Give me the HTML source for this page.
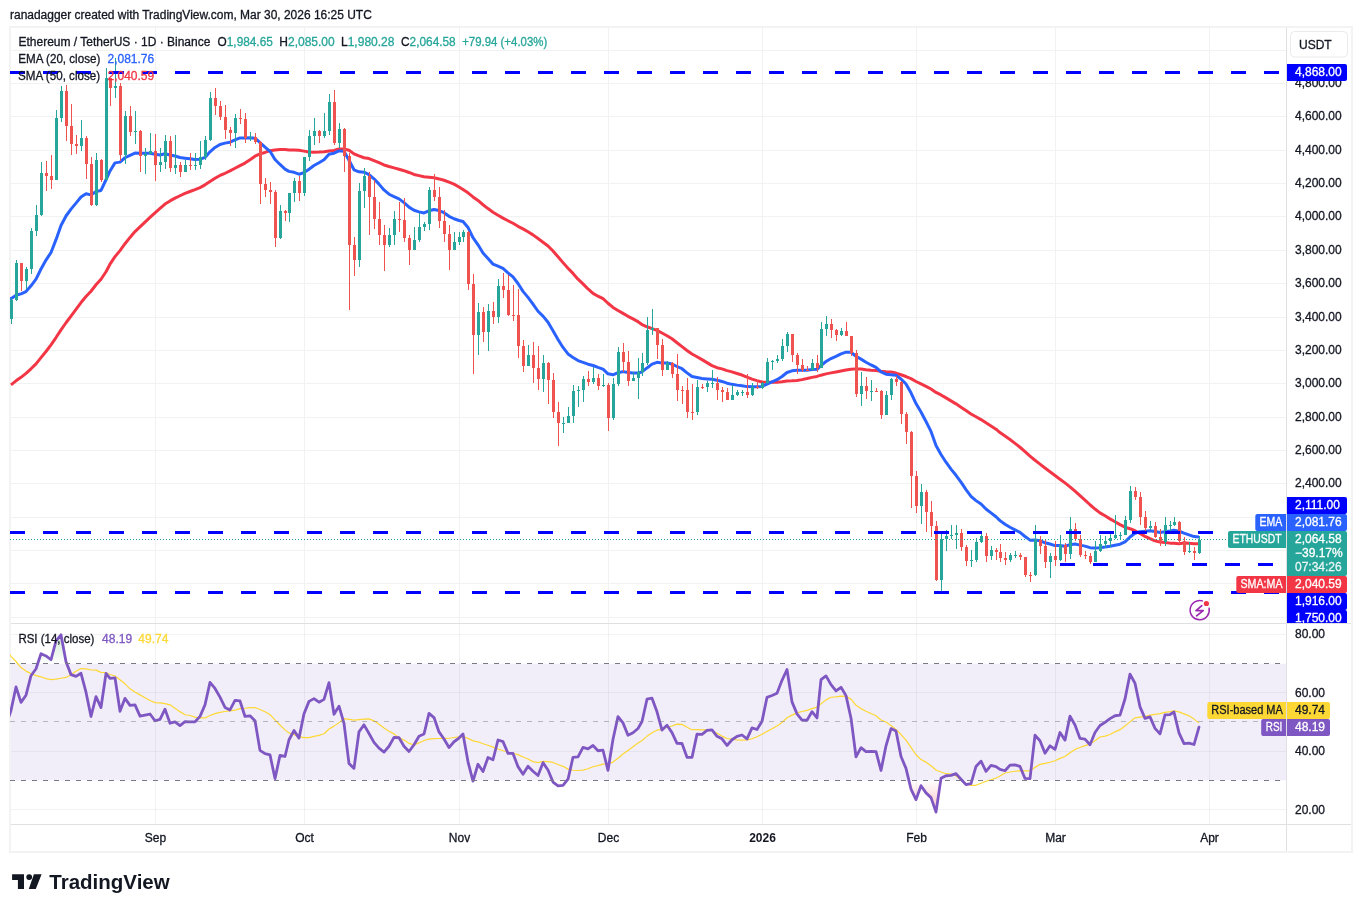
<!DOCTYPE html><html><head><meta charset="utf-8"><title>ETHUSDT chart</title><style>html,body{margin:0;padding:0;background:#fff;width:1362px;height:912px;overflow:hidden}svg{display:block;will-change:transform}text{font-family:'Liberation Sans', Arial, sans-serif;}</style></head><body>
<svg width="1362" height="912" viewBox="0 0 1362 912">
<defs>
<clipPath id="cpMain"><rect x="10" y="28" width="1276" height="595"/></clipPath>
<clipPath id="cpRsi"><rect x="10" y="624" width="1276" height="200"/></clipPath>
<clipPath id="cpOB"><rect x="10" y="600" width="1275" height="63.67"/></clipPath>
<clipPath id="cpAxisMain"><rect x="1287" y="28" width="70" height="595"/></clipPath><clipPath id="cpOS"><rect x="10" y="780.3" width="1275" height="60"/></clipPath>
<linearGradient id="gOB" x1="0" y1="634.5" x2="0" y2="663.67" gradientUnits="userSpaceOnUse"><stop offset="0" stop-color="#4caf50" stop-opacity="0.28"/><stop offset="1" stop-color="#4caf50" stop-opacity="0"/></linearGradient>
<linearGradient id="gOS" x1="0" y1="780.3" x2="0" y2="809.5" gradientUnits="userSpaceOnUse"><stop offset="0" stop-color="#f23645" stop-opacity="0"/><stop offset="1" stop-color="#f23645" stop-opacity="0.28"/></linearGradient>
</defs>
<rect width="1362" height="912" fill="#fff"/>
<text x="10" y="18.7" font-size="12" fill="#131722" textLength="361.8" lengthAdjust="spacingAndGlyphs" stroke="#131722" stroke-width="0.3">ranadagger created with TradingView.com, Mar 30, 2026 16:25 UTC</text>
<rect x="10" y="27" width="1342" height="825" fill="none" stroke="#f3f3f3" stroke-width="2"/>
<g shape-rendering="crispEdges"><rect x="11" y="50" width="1275" height="1" fill="#f0f3f2"/><rect x="11" y="83" width="1275" height="1" fill="#f0f3f2"/><rect x="11" y="116" width="1275" height="1" fill="#f0f3f2"/><rect x="11" y="150" width="1275" height="1" fill="#f0f3f2"/><rect x="11" y="183" width="1275" height="1" fill="#f0f3f2"/><rect x="11" y="216" width="1275" height="1" fill="#f0f3f2"/><rect x="11" y="250" width="1275" height="1" fill="#f0f3f2"/><rect x="11" y="283" width="1275" height="1" fill="#f0f3f2"/><rect x="11" y="317" width="1275" height="1" fill="#f0f3f2"/><rect x="11" y="350" width="1275" height="1" fill="#f0f3f2"/><rect x="11" y="383" width="1275" height="1" fill="#f0f3f2"/><rect x="11" y="417" width="1275" height="1" fill="#f0f3f2"/><rect x="11" y="450" width="1275" height="1" fill="#f0f3f2"/><rect x="11" y="483" width="1275" height="1" fill="#f0f3f2"/><rect x="11" y="517" width="1275" height="1" fill="#f0f3f2"/><rect x="11" y="550" width="1275" height="1" fill="#f0f3f2"/><rect x="11" y="583" width="1275" height="1" fill="#f0f3f2"/><rect x="11" y="617" width="1275" height="1" fill="#f0f3f2"/><rect x="155" y="28" width="1" height="595" fill="#f0f3f2"/><rect x="155" y="624" width="1" height="200" fill="#f0f3f2"/><rect x="304" y="28" width="1" height="595" fill="#f0f3f2"/><rect x="304" y="624" width="1" height="200" fill="#f0f3f2"/><rect x="459" y="28" width="1" height="595" fill="#f0f3f2"/><rect x="459" y="624" width="1" height="200" fill="#f0f3f2"/><rect x="608" y="28" width="1" height="595" fill="#f0f3f2"/><rect x="608" y="624" width="1" height="200" fill="#f0f3f2"/><rect x="762" y="28" width="1" height="595" fill="#f0f3f2"/><rect x="762" y="624" width="1" height="200" fill="#f0f3f2"/><rect x="916" y="28" width="1" height="595" fill="#f0f3f2"/><rect x="916" y="624" width="1" height="200" fill="#f0f3f2"/><rect x="1055" y="28" width="1" height="595" fill="#f0f3f2"/><rect x="1055" y="624" width="1" height="200" fill="#f0f3f2"/><rect x="1209" y="28" width="1" height="595" fill="#f0f3f2"/><rect x="1209" y="624" width="1" height="200" fill="#f0f3f2"/></g>
<rect x="11" y="663.67" width="1275" height="116.67" fill="#f2eef9"/>
<g shape-rendering="crispEdges"><rect x="11" y="634" width="1275" height="1" fill="rgba(42,46,57,0.06)"/><rect x="11" y="692" width="1275" height="1" fill="rgba(42,46,57,0.06)"/><rect x="11" y="751" width="1275" height="1" fill="rgba(42,46,57,0.06)"/><rect x="11" y="809" width="1275" height="1" fill="rgba(42,46,57,0.06)"/><rect x="155" y="663" width="1" height="117" fill="rgba(42,46,57,0.06)"/><rect x="304" y="663" width="1" height="117" fill="rgba(42,46,57,0.06)"/><rect x="459" y="663" width="1" height="117" fill="rgba(42,46,57,0.06)"/><rect x="608" y="663" width="1" height="117" fill="rgba(42,46,57,0.06)"/><rect x="762" y="663" width="1" height="117" fill="rgba(42,46,57,0.06)"/><rect x="916" y="663" width="1" height="117" fill="rgba(42,46,57,0.06)"/><rect x="1055" y="663" width="1" height="117" fill="rgba(42,46,57,0.06)"/><rect x="1209" y="663" width="1" height="117" fill="rgba(42,46,57,0.06)"/></g>
<g clip-path="url(#cpOB)"><polygon points="-4.00,663.67 -4.00,672.98 1.00,712.68 6.00,724.81 11.00,710.55 16.00,686.93 21.00,702.34 26.00,695.21 31.00,675.71 36.00,668.75 41.00,653.70 46.00,655.91 51.00,659.76 56.00,640.95 61.00,634.77 66.00,661.85 71.00,674.63 76.00,676.39 81.00,673.28 86.00,692.21 91.00,716.53 96.00,696.61 101.00,707.56 106.00,673.43 110.00,678.45 115.00,677.82 120.00,711.30 125.00,698.36 130.00,705.39 135.00,704.85 140.00,716.15 145.00,715.12 150.00,714.03 155.00,720.73 160.00,719.31 165.00,709.14 170.00,723.21 175.00,721.89 180.00,725.59 185.00,721.62 190.00,721.80 195.00,721.80 200.00,716.39 205.00,704.83 210.00,682.37 215.00,688.44 220.00,697.17 225.00,707.44 230.00,709.97 235.00,700.36 240.00,700.96 245.00,716.46 250.00,715.86 255.00,720.80 260.00,750.39 265.00,753.66 270.00,754.88 275.00,778.58 280.00,755.41 285.00,756.46 289.00,739.79 294.00,730.55 299.00,738.12 304.00,713.70 309.00,701.39 314.00,698.60 319.00,702.17 324.00,699.37 329.00,682.62 334.00,714.23 339.00,706.13 344.00,723.35 349.00,763.57 354.00,768.37 359.00,731.75 364.00,724.83 369.00,733.50 374.00,742.32 379.00,748.15 384.00,752.11 389.00,746.22 394.00,737.32 399.00,737.69 404.00,746.22 409.00,751.47 414.00,744.77 419.00,736.20 424.00,734.01 429.00,713.35 434.00,717.56 439.00,731.92 444.00,739.01 449.00,747.55 454.00,741.75 459.00,738.06 463.00,734.04 468.00,761.83 473.00,781.08 478.00,764.26 483.00,771.48 488.00,757.52 493.00,759.75 498.00,740.02 503.00,741.66 508.00,753.38 513.00,753.47 518.00,766.64 523.00,774.23 528.00,766.17 533.00,771.29 538.00,775.50 543.00,762.64 548.00,770.00 553.00,782.06 558.00,785.93 563.00,785.48 568.00,779.19 573.00,757.31 578.00,756.89 583.00,747.40 588.00,748.92 593.00,745.53 598.00,750.75 603.00,750.23 608.00,770.39 613.00,739.27 618.00,716.55 623.00,722.86 628.00,735.23 633.00,732.74 638.00,728.47 642.00,721.48 647.00,699.20 652.00,698.16 657.00,711.83 662.00,730.06 667.00,725.26 672.00,732.64 677.00,743.32 682.00,743.52 687.00,757.24 692.00,757.43 697.00,734.16 702.00,734.38 707.00,730.44 712.00,729.96 717.00,736.30 722.00,738.79 727.00,745.47 732.00,739.76 737.00,736.29 742.00,735.00 747.00,738.92 752.00,727.88 757.00,729.52 762.00,721.34 767.00,697.33 772.00,695.53 777.00,693.20 782.00,680.32 787.00,669.52 792.00,701.84 797.00,713.88 802.00,720.02 807.00,720.27 812.00,711.64 817.00,717.95 821.00,679.65 826.00,675.86 831.00,684.67 836.00,690.97 841.00,687.32 846.00,695.63 851.00,718.18 856.00,756.80 861.00,747.66 866.00,751.66 871.00,751.29 876.00,751.56 881.00,770.45 886.00,745.84 891.00,728.58 896.00,730.91 901.00,756.56 906.00,768.35 911.00,789.05 916.00,799.64 921.00,785.69 926.00,792.89 931.00,797.62 936.00,812.13 941.00,778.34 946.00,775.75 951.00,775.35 956.00,773.63 961.00,779.27 966.00,784.67 971.00,783.58 976.00,766.42 981.00,761.11 986.00,771.29 991.00,765.46 996.00,766.65 1000.00,769.46 1005.00,770.74 1010.00,765.10 1015.00,764.84 1020.00,766.44 1025.00,778.43 1030.00,778.62 1035.00,735.22 1040.00,740.70 1045.00,753.24 1050.00,745.79 1055.00,749.39 1060.00,732.49 1065.00,740.12 1070.00,716.10 1075.00,724.99 1080.00,738.45 1085.00,739.10 1090.00,744.71 1095.00,732.45 1100.00,725.46 1105.00,722.31 1110.00,718.64 1115.00,715.75 1120.00,715.16 1125.00,699.01 1130.00,674.15 1135.00,683.25 1140.00,706.85 1145.00,718.32 1150.00,716.92 1155.00,728.42 1160.00,733.87 1165.00,714.94 1170.00,714.53 1174.00,712.05 1179.00,732.88 1184.00,743.58 1189.00,743.19 1194.00,744.52 1199.00,727.20 1199.00,663.67" fill="url(#gOB)"/></g>
<g clip-path="url(#cpOS)"><polygon points="-4.00,780.3 -4.00,672.98 1.00,712.68 6.00,724.81 11.00,710.55 16.00,686.93 21.00,702.34 26.00,695.21 31.00,675.71 36.00,668.75 41.00,653.70 46.00,655.91 51.00,659.76 56.00,640.95 61.00,634.77 66.00,661.85 71.00,674.63 76.00,676.39 81.00,673.28 86.00,692.21 91.00,716.53 96.00,696.61 101.00,707.56 106.00,673.43 110.00,678.45 115.00,677.82 120.00,711.30 125.00,698.36 130.00,705.39 135.00,704.85 140.00,716.15 145.00,715.12 150.00,714.03 155.00,720.73 160.00,719.31 165.00,709.14 170.00,723.21 175.00,721.89 180.00,725.59 185.00,721.62 190.00,721.80 195.00,721.80 200.00,716.39 205.00,704.83 210.00,682.37 215.00,688.44 220.00,697.17 225.00,707.44 230.00,709.97 235.00,700.36 240.00,700.96 245.00,716.46 250.00,715.86 255.00,720.80 260.00,750.39 265.00,753.66 270.00,754.88 275.00,778.58 280.00,755.41 285.00,756.46 289.00,739.79 294.00,730.55 299.00,738.12 304.00,713.70 309.00,701.39 314.00,698.60 319.00,702.17 324.00,699.37 329.00,682.62 334.00,714.23 339.00,706.13 344.00,723.35 349.00,763.57 354.00,768.37 359.00,731.75 364.00,724.83 369.00,733.50 374.00,742.32 379.00,748.15 384.00,752.11 389.00,746.22 394.00,737.32 399.00,737.69 404.00,746.22 409.00,751.47 414.00,744.77 419.00,736.20 424.00,734.01 429.00,713.35 434.00,717.56 439.00,731.92 444.00,739.01 449.00,747.55 454.00,741.75 459.00,738.06 463.00,734.04 468.00,761.83 473.00,781.08 478.00,764.26 483.00,771.48 488.00,757.52 493.00,759.75 498.00,740.02 503.00,741.66 508.00,753.38 513.00,753.47 518.00,766.64 523.00,774.23 528.00,766.17 533.00,771.29 538.00,775.50 543.00,762.64 548.00,770.00 553.00,782.06 558.00,785.93 563.00,785.48 568.00,779.19 573.00,757.31 578.00,756.89 583.00,747.40 588.00,748.92 593.00,745.53 598.00,750.75 603.00,750.23 608.00,770.39 613.00,739.27 618.00,716.55 623.00,722.86 628.00,735.23 633.00,732.74 638.00,728.47 642.00,721.48 647.00,699.20 652.00,698.16 657.00,711.83 662.00,730.06 667.00,725.26 672.00,732.64 677.00,743.32 682.00,743.52 687.00,757.24 692.00,757.43 697.00,734.16 702.00,734.38 707.00,730.44 712.00,729.96 717.00,736.30 722.00,738.79 727.00,745.47 732.00,739.76 737.00,736.29 742.00,735.00 747.00,738.92 752.00,727.88 757.00,729.52 762.00,721.34 767.00,697.33 772.00,695.53 777.00,693.20 782.00,680.32 787.00,669.52 792.00,701.84 797.00,713.88 802.00,720.02 807.00,720.27 812.00,711.64 817.00,717.95 821.00,679.65 826.00,675.86 831.00,684.67 836.00,690.97 841.00,687.32 846.00,695.63 851.00,718.18 856.00,756.80 861.00,747.66 866.00,751.66 871.00,751.29 876.00,751.56 881.00,770.45 886.00,745.84 891.00,728.58 896.00,730.91 901.00,756.56 906.00,768.35 911.00,789.05 916.00,799.64 921.00,785.69 926.00,792.89 931.00,797.62 936.00,812.13 941.00,778.34 946.00,775.75 951.00,775.35 956.00,773.63 961.00,779.27 966.00,784.67 971.00,783.58 976.00,766.42 981.00,761.11 986.00,771.29 991.00,765.46 996.00,766.65 1000.00,769.46 1005.00,770.74 1010.00,765.10 1015.00,764.84 1020.00,766.44 1025.00,778.43 1030.00,778.62 1035.00,735.22 1040.00,740.70 1045.00,753.24 1050.00,745.79 1055.00,749.39 1060.00,732.49 1065.00,740.12 1070.00,716.10 1075.00,724.99 1080.00,738.45 1085.00,739.10 1090.00,744.71 1095.00,732.45 1100.00,725.46 1105.00,722.31 1110.00,718.64 1115.00,715.75 1120.00,715.16 1125.00,699.01 1130.00,674.15 1135.00,683.25 1140.00,706.85 1145.00,718.32 1150.00,716.92 1155.00,728.42 1160.00,733.87 1165.00,714.94 1170.00,714.53 1174.00,712.05 1179.00,732.88 1184.00,743.58 1189.00,743.19 1194.00,744.52 1199.00,727.20 1199.00,780.3" fill="url(#gOS)"/></g>
<g clip-path="url(#cpRsi)">
<polyline points="-4.00,635.54 1.00,641.98 6.00,649.42 11.00,656.30 16.00,661.50 21.00,667.53 26.00,671.09 31.00,673.61 36.00,675.67 41.00,676.79 46.00,678.64 51.00,679.57 56.00,679.07 61.00,678.22 66.00,677.42 71.00,674.70 76.00,671.25 81.00,668.58 86.00,668.96 91.00,669.98 96.00,670.08 101.00,672.35 106.00,672.69 110.00,674.45 115.00,676.02 120.00,679.70 125.00,683.80 130.00,688.84 135.00,691.92 140.00,694.88 145.00,697.65 150.00,700.56 155.00,702.60 160.00,702.79 165.00,703.69 170.00,704.81 175.00,708.27 180.00,711.63 185.00,714.76 190.00,715.51 195.00,717.19 200.00,717.97 205.00,717.97 210.00,715.56 215.00,713.65 220.00,712.45 225.00,711.50 230.00,710.83 235.00,710.21 240.00,708.62 245.00,708.23 250.00,707.54 255.00,707.48 260.00,709.52 265.00,711.79 270.00,714.54 275.00,719.81 280.00,725.03 285.00,729.89 289.00,732.93 294.00,734.58 299.00,736.59 304.00,737.55 309.00,737.58 314.00,736.30 319.00,735.32 324.00,733.79 329.00,728.95 334.00,726.13 339.00,722.65 344.00,718.71 349.00,719.29 354.00,720.14 359.00,719.57 364.00,719.16 369.00,718.83 374.00,720.87 379.00,724.21 384.00,728.03 389.00,731.18 394.00,733.89 399.00,737.82 404.00,740.11 409.00,743.35 414.00,744.88 419.00,742.92 424.00,740.47 429.00,739.15 434.00,738.63 439.00,738.52 444.00,738.29 449.00,738.24 454.00,737.50 459.00,736.92 463.00,736.69 468.00,738.41 473.00,740.90 478.00,741.81 483.00,743.72 488.00,745.24 493.00,747.08 498.00,748.99 503.00,750.71 508.00,752.24 513.00,753.27 518.00,754.64 523.00,756.96 528.00,758.97 533.00,761.63 538.00,762.60 543.00,761.29 548.00,761.70 553.00,762.45 558.00,764.48 563.00,766.32 568.00,769.12 573.00,770.24 578.00,770.49 583.00,770.05 588.00,768.79 593.00,766.74 598.00,765.63 603.00,764.13 608.00,763.77 613.00,762.10 618.00,758.28 623.00,754.05 628.00,750.43 633.00,746.66 638.00,743.04 642.00,740.48 647.00,736.36 652.00,732.84 657.00,730.19 662.00,729.09 667.00,727.27 672.00,726.01 677.00,724.08 682.00,724.38 687.00,727.29 692.00,729.76 697.00,729.68 702.00,729.80 707.00,729.94 712.00,730.54 717.00,733.19 722.00,736.10 727.00,738.50 732.00,739.19 737.00,739.98 742.00,740.15 747.00,739.83 752.00,738.72 757.00,736.74 762.00,734.16 767.00,731.53 772.00,728.75 777.00,726.09 782.00,722.55 787.00,717.78 792.00,715.14 797.00,712.88 802.00,711.47 807.00,710.33 812.00,708.66 817.00,707.16 821.00,703.72 826.00,699.88 831.00,697.26 836.00,696.81 841.00,696.22 846.00,696.40 851.00,699.10 856.00,705.33 861.00,708.61 866.00,711.31 871.00,713.54 876.00,715.77 881.00,719.97 886.00,721.97 891.00,725.46 896.00,729.39 901.00,734.53 906.00,740.05 911.00,747.32 916.00,754.75 921.00,759.57 926.00,762.15 931.00,765.72 936.00,770.04 941.00,771.97 946.00,773.70 951.00,774.05 956.00,776.04 961.00,779.66 966.00,783.50 971.00,785.43 976.00,785.29 981.00,783.29 986.00,781.27 991.00,779.82 996.00,777.95 1000.00,775.94 1005.00,772.98 1010.00,772.03 1015.00,771.25 1020.00,770.62 1025.00,770.96 1030.00,770.91 1035.00,767.38 1040.00,764.32 1045.00,763.38 1050.00,762.28 1055.00,760.72 1060.00,758.37 1065.00,756.47 1070.00,752.66 1075.00,749.39 1080.00,747.49 1085.00,745.65 1090.00,744.10 1095.00,740.81 1100.00,737.02 1105.00,736.09 1110.00,734.52 1115.00,731.84 1120.00,729.65 1125.00,726.05 1130.00,721.89 1135.00,717.82 1140.00,717.16 1145.00,716.69 1150.00,715.15 1155.00,714.39 1160.00,713.61 1165.00,712.36 1170.00,711.58 1174.00,710.85 1179.00,711.86 1184.00,713.85 1189.00,715.85 1194.00,719.11 1199.00,722.89" fill="none" stroke="#fdd835" stroke-width="1.2" stroke-linejoin="round"/>
<polyline points="-4.00,672.98 1.00,712.68 6.00,724.81 11.00,710.55 16.00,686.93 21.00,702.34 26.00,695.21 31.00,675.71 36.00,668.75 41.00,653.70 46.00,655.91 51.00,659.76 56.00,640.95 61.00,634.77 66.00,661.85 71.00,674.63 76.00,676.39 81.00,673.28 86.00,692.21 91.00,716.53 96.00,696.61 101.00,707.56 106.00,673.43 110.00,678.45 115.00,677.82 120.00,711.30 125.00,698.36 130.00,705.39 135.00,704.85 140.00,716.15 145.00,715.12 150.00,714.03 155.00,720.73 160.00,719.31 165.00,709.14 170.00,723.21 175.00,721.89 180.00,725.59 185.00,721.62 190.00,721.80 195.00,721.80 200.00,716.39 205.00,704.83 210.00,682.37 215.00,688.44 220.00,697.17 225.00,707.44 230.00,709.97 235.00,700.36 240.00,700.96 245.00,716.46 250.00,715.86 255.00,720.80 260.00,750.39 265.00,753.66 270.00,754.88 275.00,778.58 280.00,755.41 285.00,756.46 289.00,739.79 294.00,730.55 299.00,738.12 304.00,713.70 309.00,701.39 314.00,698.60 319.00,702.17 324.00,699.37 329.00,682.62 334.00,714.23 339.00,706.13 344.00,723.35 349.00,763.57 354.00,768.37 359.00,731.75 364.00,724.83 369.00,733.50 374.00,742.32 379.00,748.15 384.00,752.11 389.00,746.22 394.00,737.32 399.00,737.69 404.00,746.22 409.00,751.47 414.00,744.77 419.00,736.20 424.00,734.01 429.00,713.35 434.00,717.56 439.00,731.92 444.00,739.01 449.00,747.55 454.00,741.75 459.00,738.06 463.00,734.04 468.00,761.83 473.00,781.08 478.00,764.26 483.00,771.48 488.00,757.52 493.00,759.75 498.00,740.02 503.00,741.66 508.00,753.38 513.00,753.47 518.00,766.64 523.00,774.23 528.00,766.17 533.00,771.29 538.00,775.50 543.00,762.64 548.00,770.00 553.00,782.06 558.00,785.93 563.00,785.48 568.00,779.19 573.00,757.31 578.00,756.89 583.00,747.40 588.00,748.92 593.00,745.53 598.00,750.75 603.00,750.23 608.00,770.39 613.00,739.27 618.00,716.55 623.00,722.86 628.00,735.23 633.00,732.74 638.00,728.47 642.00,721.48 647.00,699.20 652.00,698.16 657.00,711.83 662.00,730.06 667.00,725.26 672.00,732.64 677.00,743.32 682.00,743.52 687.00,757.24 692.00,757.43 697.00,734.16 702.00,734.38 707.00,730.44 712.00,729.96 717.00,736.30 722.00,738.79 727.00,745.47 732.00,739.76 737.00,736.29 742.00,735.00 747.00,738.92 752.00,727.88 757.00,729.52 762.00,721.34 767.00,697.33 772.00,695.53 777.00,693.20 782.00,680.32 787.00,669.52 792.00,701.84 797.00,713.88 802.00,720.02 807.00,720.27 812.00,711.64 817.00,717.95 821.00,679.65 826.00,675.86 831.00,684.67 836.00,690.97 841.00,687.32 846.00,695.63 851.00,718.18 856.00,756.80 861.00,747.66 866.00,751.66 871.00,751.29 876.00,751.56 881.00,770.45 886.00,745.84 891.00,728.58 896.00,730.91 901.00,756.56 906.00,768.35 911.00,789.05 916.00,799.64 921.00,785.69 926.00,792.89 931.00,797.62 936.00,812.13 941.00,778.34 946.00,775.75 951.00,775.35 956.00,773.63 961.00,779.27 966.00,784.67 971.00,783.58 976.00,766.42 981.00,761.11 986.00,771.29 991.00,765.46 996.00,766.65 1000.00,769.46 1005.00,770.74 1010.00,765.10 1015.00,764.84 1020.00,766.44 1025.00,778.43 1030.00,778.62 1035.00,735.22 1040.00,740.70 1045.00,753.24 1050.00,745.79 1055.00,749.39 1060.00,732.49 1065.00,740.12 1070.00,716.10 1075.00,724.99 1080.00,738.45 1085.00,739.10 1090.00,744.71 1095.00,732.45 1100.00,725.46 1105.00,722.31 1110.00,718.64 1115.00,715.75 1120.00,715.16 1125.00,699.01 1130.00,674.15 1135.00,683.25 1140.00,706.85 1145.00,718.32 1150.00,716.92 1155.00,728.42 1160.00,733.87 1165.00,714.94 1170.00,714.53 1174.00,712.05 1179.00,732.88 1184.00,743.58 1189.00,743.19 1194.00,744.52 1199.00,727.20" fill="none" stroke="#7e57c2" stroke-width="2.8" stroke-linejoin="round" stroke-linecap="round"/>
</g>
<line x1="10" y1="663.5" x2="1286" y2="663.5" stroke="#787b86" stroke-width="1" stroke-dasharray="5 6" shape-rendering="crispEdges"/>
<line x1="10" y1="721.5" x2="1286" y2="721.5" stroke="rgba(120,123,134,0.5)" stroke-width="1" stroke-dasharray="5 6" shape-rendering="crispEdges"/>
<line x1="10" y1="780.5" x2="1286" y2="780.5" stroke="#787b86" stroke-width="1" stroke-dasharray="5 6" shape-rendering="crispEdges"/>
<g clip-path="url(#cpMain)">
<polyline points="11.00,384.82 16.00,380.84 21.00,377.35 26.00,373.43 31.00,368.80 36.00,363.82 41.00,357.64 46.00,351.48 51.00,344.83 56.00,337.54 61.00,329.86 66.00,322.76 71.00,316.03 76.00,309.36 81.00,302.56 86.00,296.50 91.00,291.21 96.00,284.75 101.00,279.24 106.00,271.76 110.00,264.20 115.00,256.62 120.00,250.61 125.00,243.73 130.00,237.42 135.00,231.59 140.00,226.88 145.00,222.14 150.00,217.31 155.00,212.83 160.00,208.43 165.00,204.03 170.00,200.93 175.00,198.14 180.00,195.74 185.00,193.33 190.00,191.48 195.00,189.65 200.00,187.61 205.00,184.83 210.00,181.48 215.00,178.30 220.00,175.43 225.00,173.26 230.00,170.92 235.00,168.26 240.00,165.67 245.00,163.08 250.00,159.74 255.00,156.23 260.00,153.91 265.00,152.44 270.00,150.65 275.00,150.02 280.00,149.62 285.00,149.58 289.00,149.98 294.00,150.08 299.00,150.34 304.00,151.13 309.00,152.03 314.00,152.14 319.00,151.98 324.00,151.68 329.00,150.96 334.00,150.53 339.00,149.02 344.00,148.94 349.00,150.25 354.00,153.88 359.00,155.95 364.00,157.75 369.00,158.59 374.00,160.64 379.00,162.69 384.00,164.98 389.00,166.55 394.00,167.86 399.00,169.23 404.00,170.70 409.00,172.47 414.00,174.44 419.00,175.63 424.00,176.81 429.00,177.17 434.00,177.81 439.00,178.92 444.00,180.28 449.00,182.13 454.00,184.17 459.00,186.95 463.00,189.47 468.00,192.81 473.00,196.91 478.00,200.48 483.00,204.75 488.00,208.59 493.00,212.18 498.00,215.17 503.00,218.11 508.00,220.73 513.00,223.24 518.00,226.32 523.00,228.89 528.00,231.77 533.00,234.86 538.00,238.57 543.00,242.22 548.00,245.97 553.00,251.05 558.00,256.79 563.00,262.61 568.00,268.21 573.00,273.40 578.00,279.17 583.00,283.89 588.00,288.94 593.00,293.38 598.00,296.19 603.00,298.71 608.00,303.24 613.00,307.41 618.00,310.52 623.00,313.37 628.00,316.30 633.00,318.94 638.00,321.68 642.00,324.56 647.00,326.76 652.00,328.56 657.00,330.45 662.00,333.04 667.00,335.77 672.00,338.77 677.00,342.76 682.00,346.63 687.00,350.45 692.00,354.01 697.00,356.75 702.00,359.66 707.00,362.58 712.00,365.60 717.00,367.72 722.00,368.86 727.00,370.63 732.00,371.90 737.00,373.52 742.00,375.02 747.00,377.19 752.00,379.14 757.00,380.61 762.00,381.95 767.00,382.29 772.00,382.19 777.00,382.25 782.00,381.82 787.00,380.93 792.00,380.78 797.00,380.47 802.00,379.63 807.00,378.57 812.00,377.38 817.00,376.41 821.00,375.18 826.00,373.86 831.00,372.88 836.00,371.94 841.00,371.00 846.00,370.01 851.00,369.36 856.00,368.88 861.00,368.93 866.00,369.70 871.00,370.29 876.00,370.50 881.00,371.24 886.00,371.71 891.00,372.03 896.00,373.07 901.00,374.77 906.00,376.53 911.00,378.65 916.00,381.50 921.00,383.87 926.00,386.31 931.00,389.02 936.00,392.38 941.00,394.93 946.00,397.90 951.00,400.86 956.00,403.87 961.00,407.16 966.00,410.58 971.00,413.93 976.00,416.77 981.00,419.59 986.00,422.86 991.00,426.04 996.00,429.19 1000.00,432.60 1005.00,436.03 1010.00,439.48 1015.00,443.32 1020.00,447.25 1025.00,451.57 1030.00,456.14 1035.00,460.25 1040.00,464.07 1045.00,468.03 1050.00,471.75 1055.00,475.56 1060.00,479.20 1065.00,482.92 1070.00,486.92 1075.00,491.21 1080.00,495.70 1085.00,500.12 1090.00,504.75 1095.00,509.04 1100.00,512.87 1105.00,515.82 1110.00,518.85 1115.00,521.73 1120.00,524.61 1125.00,527.19 1130.00,528.71 1135.00,530.75 1140.00,533.50 1145.00,536.42 1150.00,538.67 1155.00,540.76 1160.00,542.10 1165.00,542.48 1170.00,543.13 1174.00,543.35 1179.00,543.64 1184.00,543.08 1189.00,543.33 1194.00,543.67 1199.00,543.76" fill="none" stroke="#f23645" stroke-width="3" stroke-linejoin="round"/>
<polyline points="-4.00,295.69 1.00,296.45 6.00,298.49 11.00,298.64 16.00,295.25 21.00,293.92 26.00,291.58 31.00,285.84 36.00,279.09 41.00,269.00 46.00,260.10 51.00,252.45 56.00,239.65 61.00,225.52 66.00,216.00 71.00,209.12 76.00,203.13 81.00,196.94 86.00,193.84 91.00,194.88 96.00,191.56 101.00,190.46 106.00,179.76 110.00,170.99 115.00,162.86 120.00,162.11 125.00,157.75 130.00,155.34 135.00,153.02 140.00,153.33 145.00,153.37 150.00,153.17 155.00,154.27 160.00,155.00 165.00,153.69 170.00,155.00 175.00,155.96 180.00,157.46 185.00,158.17 190.00,158.85 195.00,159.47 200.00,159.28 205.00,157.44 210.00,151.81 215.00,147.43 220.00,144.50 225.00,143.12 230.00,142.19 235.00,139.91 240.00,137.92 245.00,137.88 250.00,137.77 255.00,138.22 260.00,142.60 265.00,147.08 270.00,151.33 275.00,159.54 280.00,164.47 285.00,169.12 289.00,171.39 294.00,172.29 299.00,174.21 304.00,172.62 309.00,169.16 314.00,165.56 319.00,162.72 324.00,159.73 329.00,154.20 334.00,153.17 339.00,150.88 344.00,151.35 349.00,160.30 354.00,169.77 359.00,171.82 364.00,172.20 369.00,174.53 374.00,178.78 379.00,184.11 384.00,189.94 389.00,194.23 394.00,196.61 399.00,198.83 404.00,202.59 409.00,207.11 414.00,210.24 419.00,211.84 424.00,212.97 429.00,210.78 434.00,209.44 439.00,210.52 444.00,212.73 449.00,216.28 454.00,218.73 459.00,220.47 463.00,221.54 468.00,227.46 473.00,237.73 478.00,244.77 483.00,253.05 488.00,258.59 493.00,264.12 498.00,266.24 503.00,268.47 508.00,272.90 513.00,276.93 518.00,283.49 523.00,291.33 528.00,297.42 533.00,304.14 538.00,311.24 543.00,316.17 548.00,322.25 553.00,330.77 558.00,339.55 563.00,347.45 568.00,353.96 573.00,357.47 578.00,360.60 583.00,362.37 588.00,364.21 593.00,365.52 598.00,367.45 603.00,369.15 608.00,373.81 613.00,374.80 618.00,372.67 623.00,371.63 628.00,372.50 633.00,372.98 638.00,372.88 642.00,371.94 647.00,367.95 652.00,364.17 657.00,362.32 662.00,363.02 667.00,363.05 672.00,364.06 677.00,366.50 682.00,368.74 687.00,372.83 692.00,376.56 697.00,377.56 702.00,378.48 707.00,378.91 712.00,379.26 717.00,380.25 722.00,381.42 727.00,383.19 732.00,384.34 737.00,385.12 742.00,385.73 747.00,386.61 752.00,386.65 757.00,386.80 762.00,386.39 767.00,384.12 772.00,381.90 777.00,379.69 782.00,376.51 787.00,372.48 792.00,370.84 797.00,370.26 802.00,370.20 807.00,370.18 812.00,369.49 817.00,369.30 821.00,365.48 826.00,361.55 831.00,358.58 836.00,356.30 841.00,353.87 846.00,352.20 851.00,352.28 856.00,356.27 861.00,359.13 866.00,362.19 871.00,364.94 876.00,367.45 881.00,371.95 886.00,374.17 891.00,374.65 896.00,375.32 901.00,378.98 906.00,384.07 911.00,392.81 916.00,403.57 921.00,411.99 926.00,421.49 931.00,431.42 936.00,445.54 941.00,454.46 946.00,462.21 951.00,469.17 956.00,475.28 961.00,482.11 966.00,489.60 971.00,496.28 976.00,500.63 981.00,504.03 986.00,509.01 991.00,512.94 996.00,516.71 1000.00,520.59 1005.00,524.32 1010.00,527.24 1015.00,529.86 1020.00,532.45 1025.00,536.47 1030.00,540.14 1035.00,540.10 1040.00,540.69 1045.00,542.77 1050.00,544.01 1055.00,545.56 1060.00,545.51 1065.00,546.29 1070.00,544.65 1075.00,544.09 1080.00,545.11 1085.00,546.11 1090.00,547.65 1095.00,547.98 1100.00,547.64 1105.00,547.05 1110.00,546.18 1115.00,545.16 1120.00,544.18 1125.00,541.91 1130.00,537.03 1135.00,533.26 1140.00,531.69 1145.00,531.30 1150.00,530.81 1155.00,531.41 1160.00,532.47 1165.00,531.76 1170.00,531.08 1174.00,530.24 1179.00,531.24 1184.00,533.18 1189.00,534.92 1194.00,536.61 1199.00,536.92" fill="none" stroke="#2962ff" stroke-width="3" stroke-linejoin="round"/>
<g shape-rendering="crispEdges"><rect x="11" y="298" width="1" height="26" fill="#26a69a"/><rect x="10" y="300" width="3" height="19" fill="#26a69a"/><rect x="16" y="260" width="1" height="41" fill="#26a69a"/><rect x="15" y="263" width="3" height="37" fill="#26a69a"/><rect x="21" y="263" width="1" height="28" fill="#ef5350"/><rect x="20" y="263" width="3" height="18" fill="#ef5350"/><rect x="26" y="267" width="1" height="22" fill="#26a69a"/><rect x="25" y="269" width="3" height="12" fill="#26a69a"/><rect x="31" y="228" width="1" height="46" fill="#26a69a"/><rect x="30" y="231" width="3" height="38" fill="#26a69a"/><rect x="36" y="205" width="1" height="31" fill="#26a69a"/><rect x="35" y="215" width="3" height="16" fill="#26a69a"/><rect x="41" y="162" width="1" height="54" fill="#26a69a"/><rect x="40" y="173" width="3" height="42" fill="#26a69a"/><rect x="46" y="161" width="1" height="30" fill="#ef5350"/><rect x="45" y="173" width="3" height="3" fill="#ef5350"/><rect x="51" y="155" width="1" height="34" fill="#ef5350"/><rect x="50" y="176" width="3" height="4" fill="#ef5350"/><rect x="56" y="110" width="1" height="70" fill="#26a69a"/><rect x="55" y="118" width="3" height="62" fill="#26a69a"/><rect x="61" y="86" width="1" height="36" fill="#26a69a"/><rect x="60" y="91" width="3" height="27" fill="#26a69a"/><rect x="66" y="85" width="1" height="56" fill="#ef5350"/><rect x="65" y="91" width="3" height="35" fill="#ef5350"/><rect x="71" y="104" width="1" height="51" fill="#ef5350"/><rect x="70" y="126" width="3" height="18" fill="#ef5350"/><rect x="76" y="135" width="1" height="19" fill="#ef5350"/><rect x="75" y="144" width="3" height="2" fill="#ef5350"/><rect x="81" y="120" width="1" height="31" fill="#26a69a"/><rect x="80" y="138" width="3" height="8" fill="#26a69a"/><rect x="86" y="136" width="1" height="43" fill="#ef5350"/><rect x="85" y="138" width="3" height="26" fill="#ef5350"/><rect x="91" y="157" width="1" height="49" fill="#ef5350"/><rect x="90" y="164" width="3" height="41" fill="#ef5350"/><rect x="96" y="153" width="1" height="53" fill="#26a69a"/><rect x="95" y="160" width="3" height="45" fill="#26a69a"/><rect x="101" y="159" width="1" height="23" fill="#ef5350"/><rect x="100" y="160" width="3" height="20" fill="#ef5350"/><rect x="106" y="68" width="1" height="112" fill="#26a69a"/><rect x="105" y="78" width="3" height="102" fill="#26a69a"/><rect x="110" y="78" width="1" height="28" fill="#ef5350"/><rect x="109" y="78" width="3" height="10" fill="#ef5350"/><rect x="115" y="58" width="1" height="40" fill="#26a69a"/><rect x="114" y="86" width="3" height="2" fill="#26a69a"/><rect x="120" y="83" width="1" height="78" fill="#ef5350"/><rect x="119" y="86" width="3" height="69" fill="#ef5350"/><rect x="125" y="111" width="1" height="53" fill="#26a69a"/><rect x="124" y="116" width="3" height="39" fill="#26a69a"/><rect x="130" y="106" width="1" height="30" fill="#ef5350"/><rect x="129" y="116" width="3" height="16" fill="#ef5350"/><rect x="135" y="111" width="1" height="33" fill="#26a69a"/><rect x="134" y="131" width="3" height="1" fill="#26a69a"/><rect x="140" y="130" width="1" height="42" fill="#ef5350"/><rect x="139" y="131" width="3" height="25" fill="#ef5350"/><rect x="145" y="148" width="1" height="26" fill="#26a69a"/><rect x="144" y="154" width="3" height="2" fill="#26a69a"/><rect x="150" y="133" width="1" height="21" fill="#26a69a"/><rect x="149" y="151" width="3" height="3" fill="#26a69a"/><rect x="155" y="134" width="1" height="47" fill="#ef5350"/><rect x="154" y="151" width="3" height="14" fill="#ef5350"/><rect x="160" y="148" width="1" height="24" fill="#26a69a"/><rect x="159" y="162" width="3" height="3" fill="#26a69a"/><rect x="165" y="135" width="1" height="34" fill="#26a69a"/><rect x="164" y="141" width="3" height="21" fill="#26a69a"/><rect x="170" y="136" width="1" height="36" fill="#ef5350"/><rect x="169" y="141" width="3" height="27" fill="#ef5350"/><rect x="175" y="135" width="1" height="39" fill="#26a69a"/><rect x="174" y="165" width="3" height="3" fill="#26a69a"/><rect x="180" y="162" width="1" height="15" fill="#ef5350"/><rect x="179" y="165" width="3" height="7" fill="#ef5350"/><rect x="185" y="160" width="1" height="12" fill="#26a69a"/><rect x="184" y="165" width="3" height="7" fill="#26a69a"/><rect x="190" y="153" width="1" height="17" fill="#ef5350"/><rect x="189" y="165" width="3" height="1" fill="#ef5350"/><rect x="195" y="153" width="1" height="17" fill="#26a69a"/><rect x="194" y="165" width="3" height="1" fill="#26a69a"/><rect x="200" y="141" width="1" height="28" fill="#26a69a"/><rect x="199" y="157" width="3" height="8" fill="#26a69a"/><rect x="205" y="136" width="1" height="24" fill="#26a69a"/><rect x="204" y="140" width="3" height="17" fill="#26a69a"/><rect x="210" y="92" width="1" height="49" fill="#26a69a"/><rect x="209" y="98" width="3" height="42" fill="#26a69a"/><rect x="215" y="88" width="1" height="27" fill="#ef5350"/><rect x="214" y="98" width="3" height="8" fill="#ef5350"/><rect x="220" y="101" width="1" height="19" fill="#ef5350"/><rect x="219" y="106" width="3" height="11" fill="#ef5350"/><rect x="225" y="105" width="1" height="34" fill="#ef5350"/><rect x="224" y="117" width="3" height="13" fill="#ef5350"/><rect x="230" y="127" width="1" height="19" fill="#ef5350"/><rect x="229" y="130" width="3" height="3" fill="#ef5350"/><rect x="235" y="114" width="1" height="34" fill="#26a69a"/><rect x="234" y="118" width="3" height="15" fill="#26a69a"/><rect x="240" y="109" width="1" height="15" fill="#ef5350"/><rect x="239" y="118" width="3" height="1" fill="#ef5350"/><rect x="245" y="113" width="1" height="30" fill="#ef5350"/><rect x="244" y="119" width="3" height="19" fill="#ef5350"/><rect x="250" y="132" width="1" height="9" fill="#26a69a"/><rect x="249" y="137" width="3" height="1" fill="#26a69a"/><rect x="255" y="133" width="1" height="11" fill="#ef5350"/><rect x="254" y="137" width="3" height="5" fill="#ef5350"/><rect x="260" y="141" width="1" height="63" fill="#ef5350"/><rect x="259" y="142" width="3" height="42" fill="#ef5350"/><rect x="265" y="178" width="1" height="19" fill="#ef5350"/><rect x="264" y="184" width="3" height="6" fill="#ef5350"/><rect x="270" y="182" width="1" height="22" fill="#ef5350"/><rect x="269" y="190" width="3" height="2" fill="#ef5350"/><rect x="275" y="190" width="1" height="57" fill="#ef5350"/><rect x="274" y="192" width="3" height="46" fill="#ef5350"/><rect x="280" y="205" width="1" height="34" fill="#26a69a"/><rect x="279" y="211" width="3" height="27" fill="#26a69a"/><rect x="285" y="210" width="1" height="11" fill="#ef5350"/><rect x="284" y="211" width="3" height="2" fill="#ef5350"/><rect x="289" y="193" width="1" height="29" fill="#26a69a"/><rect x="288" y="193" width="3" height="20" fill="#26a69a"/><rect x="294" y="178" width="1" height="24" fill="#26a69a"/><rect x="293" y="181" width="3" height="12" fill="#26a69a"/><rect x="299" y="176" width="1" height="25" fill="#ef5350"/><rect x="298" y="181" width="3" height="12" fill="#ef5350"/><rect x="304" y="157" width="1" height="39" fill="#26a69a"/><rect x="303" y="157" width="3" height="36" fill="#26a69a"/><rect x="309" y="130" width="1" height="31" fill="#26a69a"/><rect x="308" y="136" width="3" height="21" fill="#26a69a"/><rect x="314" y="118" width="1" height="27" fill="#26a69a"/><rect x="313" y="131" width="3" height="5" fill="#26a69a"/><rect x="319" y="130" width="1" height="13" fill="#ef5350"/><rect x="318" y="131" width="3" height="5" fill="#ef5350"/><rect x="324" y="113" width="1" height="25" fill="#26a69a"/><rect x="323" y="131" width="3" height="5" fill="#26a69a"/><rect x="329" y="94" width="1" height="41" fill="#26a69a"/><rect x="328" y="102" width="3" height="29" fill="#26a69a"/><rect x="334" y="90" width="1" height="55" fill="#ef5350"/><rect x="333" y="102" width="3" height="41" fill="#ef5350"/><rect x="339" y="123" width="1" height="25" fill="#26a69a"/><rect x="338" y="129" width="3" height="14" fill="#26a69a"/><rect x="344" y="128" width="1" height="44" fill="#ef5350"/><rect x="343" y="129" width="3" height="27" fill="#ef5350"/><rect x="349" y="153" width="1" height="157" fill="#ef5350"/><rect x="348" y="156" width="3" height="89" fill="#ef5350"/><rect x="354" y="237" width="1" height="39" fill="#ef5350"/><rect x="353" y="245" width="3" height="15" fill="#ef5350"/><rect x="359" y="183" width="1" height="84" fill="#26a69a"/><rect x="358" y="191" width="3" height="69" fill="#26a69a"/><rect x="364" y="168" width="1" height="40" fill="#26a69a"/><rect x="363" y="176" width="3" height="15" fill="#26a69a"/><rect x="369" y="172" width="1" height="63" fill="#ef5350"/><rect x="368" y="176" width="3" height="21" fill="#ef5350"/><rect x="374" y="180" width="1" height="49" fill="#ef5350"/><rect x="373" y="197" width="3" height="22" fill="#ef5350"/><rect x="379" y="202" width="1" height="43" fill="#ef5350"/><rect x="378" y="219" width="3" height="16" fill="#ef5350"/><rect x="384" y="225" width="1" height="46" fill="#ef5350"/><rect x="383" y="235" width="3" height="10" fill="#ef5350"/><rect x="389" y="228" width="1" height="19" fill="#26a69a"/><rect x="388" y="235" width="3" height="10" fill="#26a69a"/><rect x="394" y="211" width="1" height="34" fill="#26a69a"/><rect x="393" y="219" width="3" height="16" fill="#26a69a"/><rect x="399" y="202" width="1" height="30" fill="#ef5350"/><rect x="398" y="219" width="3" height="1" fill="#ef5350"/><rect x="404" y="198" width="1" height="44" fill="#ef5350"/><rect x="403" y="220" width="3" height="18" fill="#ef5350"/><rect x="409" y="235" width="1" height="30" fill="#ef5350"/><rect x="408" y="238" width="3" height="12" fill="#ef5350"/><rect x="414" y="227" width="1" height="23" fill="#26a69a"/><rect x="413" y="240" width="3" height="10" fill="#26a69a"/><rect x="419" y="213" width="1" height="29" fill="#26a69a"/><rect x="418" y="227" width="3" height="13" fill="#26a69a"/><rect x="424" y="222" width="1" height="9" fill="#26a69a"/><rect x="423" y="224" width="3" height="3" fill="#26a69a"/><rect x="429" y="187" width="1" height="43" fill="#26a69a"/><rect x="428" y="190" width="3" height="34" fill="#26a69a"/><rect x="434" y="174" width="1" height="27" fill="#ef5350"/><rect x="433" y="190" width="3" height="7" fill="#ef5350"/><rect x="439" y="187" width="1" height="41" fill="#ef5350"/><rect x="438" y="197" width="3" height="24" fill="#ef5350"/><rect x="444" y="210" width="1" height="32" fill="#ef5350"/><rect x="443" y="221" width="3" height="13" fill="#ef5350"/><rect x="449" y="225" width="1" height="45" fill="#ef5350"/><rect x="448" y="234" width="3" height="16" fill="#ef5350"/><rect x="454" y="232" width="1" height="18" fill="#26a69a"/><rect x="453" y="242" width="3" height="8" fill="#26a69a"/><rect x="459" y="232" width="1" height="13" fill="#26a69a"/><rect x="458" y="237" width="3" height="5" fill="#26a69a"/><rect x="463" y="230" width="1" height="12" fill="#26a69a"/><rect x="462" y="232" width="3" height="5" fill="#26a69a"/><rect x="468" y="231" width="1" height="59" fill="#ef5350"/><rect x="467" y="232" width="3" height="52" fill="#ef5350"/><rect x="473" y="274" width="1" height="100" fill="#ef5350"/><rect x="472" y="284" width="3" height="51" fill="#ef5350"/><rect x="478" y="303" width="1" height="52" fill="#26a69a"/><rect x="477" y="312" width="3" height="23" fill="#26a69a"/><rect x="483" y="307" width="1" height="35" fill="#ef5350"/><rect x="482" y="312" width="3" height="20" fill="#ef5350"/><rect x="488" y="304" width="1" height="47" fill="#26a69a"/><rect x="487" y="311" width="3" height="21" fill="#26a69a"/><rect x="493" y="302" width="1" height="22" fill="#ef5350"/><rect x="492" y="311" width="3" height="6" fill="#ef5350"/><rect x="498" y="279" width="1" height="44" fill="#26a69a"/><rect x="497" y="286" width="3" height="31" fill="#26a69a"/><rect x="503" y="273" width="1" height="25" fill="#ef5350"/><rect x="502" y="286" width="3" height="4" fill="#ef5350"/><rect x="508" y="275" width="1" height="41" fill="#ef5350"/><rect x="507" y="290" width="3" height="25" fill="#ef5350"/><rect x="513" y="285" width="1" height="36" fill="#ef5350"/><rect x="512" y="315" width="3" height="1" fill="#ef5350"/><rect x="518" y="289" width="1" height="69" fill="#ef5350"/><rect x="517" y="315" width="3" height="31" fill="#ef5350"/><rect x="523" y="340" width="1" height="32" fill="#ef5350"/><rect x="522" y="346" width="3" height="20" fill="#ef5350"/><rect x="528" y="345" width="1" height="21" fill="#26a69a"/><rect x="527" y="355" width="3" height="11" fill="#26a69a"/><rect x="533" y="342" width="1" height="41" fill="#ef5350"/><rect x="532" y="355" width="3" height="13" fill="#ef5350"/><rect x="538" y="346" width="1" height="44" fill="#ef5350"/><rect x="537" y="368" width="3" height="11" fill="#ef5350"/><rect x="543" y="355" width="1" height="37" fill="#26a69a"/><rect x="542" y="363" width="3" height="16" fill="#26a69a"/><rect x="548" y="362" width="1" height="42" fill="#ef5350"/><rect x="547" y="363" width="3" height="17" fill="#ef5350"/><rect x="553" y="373" width="1" height="45" fill="#ef5350"/><rect x="552" y="380" width="3" height="32" fill="#ef5350"/><rect x="558" y="402" width="1" height="44" fill="#ef5350"/><rect x="557" y="412" width="3" height="11" fill="#ef5350"/><rect x="563" y="417" width="1" height="16" fill="#26a69a"/><rect x="562" y="423" width="3" height="1" fill="#26a69a"/><rect x="568" y="407" width="1" height="16" fill="#26a69a"/><rect x="567" y="416" width="3" height="7" fill="#26a69a"/><rect x="573" y="385" width="1" height="38" fill="#26a69a"/><rect x="572" y="391" width="3" height="25" fill="#26a69a"/><rect x="578" y="386" width="1" height="21" fill="#26a69a"/><rect x="577" y="390" width="3" height="1" fill="#26a69a"/><rect x="583" y="376" width="1" height="26" fill="#26a69a"/><rect x="582" y="379" width="3" height="11" fill="#26a69a"/><rect x="588" y="371" width="1" height="15" fill="#ef5350"/><rect x="587" y="379" width="3" height="3" fill="#ef5350"/><rect x="593" y="367" width="1" height="17" fill="#26a69a"/><rect x="592" y="378" width="3" height="4" fill="#26a69a"/><rect x="598" y="374" width="1" height="16" fill="#ef5350"/><rect x="597" y="378" width="3" height="8" fill="#ef5350"/><rect x="603" y="374" width="1" height="13" fill="#26a69a"/><rect x="602" y="385" width="3" height="1" fill="#26a69a"/><rect x="608" y="383" width="1" height="48" fill="#ef5350"/><rect x="607" y="385" width="3" height="33" fill="#ef5350"/><rect x="613" y="378" width="1" height="42" fill="#26a69a"/><rect x="612" y="384" width="3" height="34" fill="#26a69a"/><rect x="618" y="347" width="1" height="39" fill="#26a69a"/><rect x="617" y="352" width="3" height="32" fill="#26a69a"/><rect x="623" y="343" width="1" height="29" fill="#ef5350"/><rect x="622" y="352" width="3" height="10" fill="#ef5350"/><rect x="628" y="351" width="1" height="35" fill="#ef5350"/><rect x="627" y="362" width="3" height="19" fill="#ef5350"/><rect x="633" y="372" width="1" height="9" fill="#26a69a"/><rect x="632" y="378" width="3" height="3" fill="#26a69a"/><rect x="638" y="358" width="1" height="41" fill="#26a69a"/><rect x="637" y="372" width="3" height="6" fill="#26a69a"/><rect x="642" y="353" width="1" height="23" fill="#26a69a"/><rect x="641" y="363" width="3" height="9" fill="#26a69a"/><rect x="647" y="317" width="1" height="48" fill="#26a69a"/><rect x="646" y="330" width="3" height="33" fill="#26a69a"/><rect x="652" y="309" width="1" height="26" fill="#26a69a"/><rect x="651" y="328" width="3" height="2" fill="#26a69a"/><rect x="657" y="328" width="1" height="31" fill="#ef5350"/><rect x="656" y="328" width="3" height="17" fill="#ef5350"/><rect x="662" y="339" width="1" height="37" fill="#ef5350"/><rect x="661" y="345" width="3" height="25" fill="#ef5350"/><rect x="667" y="361" width="1" height="9" fill="#26a69a"/><rect x="666" y="363" width="3" height="7" fill="#26a69a"/><rect x="672" y="362" width="1" height="16" fill="#ef5350"/><rect x="671" y="363" width="3" height="11" fill="#ef5350"/><rect x="677" y="354" width="1" height="47" fill="#ef5350"/><rect x="676" y="374" width="3" height="16" fill="#ef5350"/><rect x="682" y="386" width="1" height="18" fill="#ef5350"/><rect x="681" y="390" width="3" height="1" fill="#ef5350"/><rect x="687" y="378" width="1" height="40" fill="#ef5350"/><rect x="686" y="390" width="3" height="22" fill="#ef5350"/><rect x="692" y="384" width="1" height="36" fill="#ef5350"/><rect x="691" y="412" width="3" height="1" fill="#ef5350"/><rect x="697" y="380" width="1" height="35" fill="#26a69a"/><rect x="696" y="387" width="3" height="25" fill="#26a69a"/><rect x="702" y="384" width="1" height="5" fill="#ef5350"/><rect x="701" y="387" width="3" height="1" fill="#ef5350"/><rect x="707" y="381" width="1" height="11" fill="#26a69a"/><rect x="706" y="383" width="3" height="4" fill="#26a69a"/><rect x="712" y="370" width="1" height="18" fill="#26a69a"/><rect x="711" y="383" width="3" height="1" fill="#26a69a"/><rect x="717" y="377" width="1" height="23" fill="#ef5350"/><rect x="716" y="383" width="3" height="7" fill="#ef5350"/><rect x="722" y="387" width="1" height="15" fill="#ef5350"/><rect x="721" y="390" width="3" height="2" fill="#ef5350"/><rect x="727" y="388" width="1" height="12" fill="#ef5350"/><rect x="726" y="392" width="3" height="8" fill="#ef5350"/><rect x="732" y="385" width="1" height="15" fill="#26a69a"/><rect x="731" y="395" width="3" height="5" fill="#26a69a"/><rect x="737" y="390" width="1" height="6" fill="#26a69a"/><rect x="736" y="392" width="3" height="3" fill="#26a69a"/><rect x="742" y="390" width="1" height="6" fill="#26a69a"/><rect x="741" y="392" width="3" height="1" fill="#26a69a"/><rect x="747" y="374" width="1" height="24" fill="#ef5350"/><rect x="746" y="392" width="3" height="3" fill="#ef5350"/><rect x="752" y="383" width="1" height="13" fill="#26a69a"/><rect x="751" y="387" width="3" height="8" fill="#26a69a"/><rect x="757" y="380" width="1" height="9" fill="#ef5350"/><rect x="756" y="387" width="3" height="1" fill="#ef5350"/><rect x="762" y="382" width="1" height="7" fill="#26a69a"/><rect x="761" y="383" width="3" height="5" fill="#26a69a"/><rect x="767" y="358" width="1" height="26" fill="#26a69a"/><rect x="766" y="362" width="3" height="21" fill="#26a69a"/><rect x="772" y="360" width="1" height="10" fill="#26a69a"/><rect x="771" y="361" width="3" height="1" fill="#26a69a"/><rect x="777" y="355" width="1" height="8" fill="#26a69a"/><rect x="776" y="359" width="3" height="2" fill="#26a69a"/><rect x="782" y="339" width="1" height="22" fill="#26a69a"/><rect x="781" y="346" width="3" height="13" fill="#26a69a"/><rect x="787" y="332" width="1" height="20" fill="#26a69a"/><rect x="786" y="334" width="3" height="12" fill="#26a69a"/><rect x="792" y="334" width="1" height="28" fill="#ef5350"/><rect x="791" y="334" width="3" height="21" fill="#ef5350"/><rect x="797" y="353" width="1" height="21" fill="#ef5350"/><rect x="796" y="355" width="3" height="10" fill="#ef5350"/><rect x="802" y="359" width="1" height="13" fill="#ef5350"/><rect x="801" y="365" width="3" height="5" fill="#ef5350"/><rect x="807" y="366" width="1" height="4" fill="#ef5350"/><rect x="806" y="370" width="3" height="1" fill="#ef5350"/><rect x="812" y="359" width="1" height="11" fill="#26a69a"/><rect x="811" y="363" width="3" height="7" fill="#26a69a"/><rect x="817" y="355" width="1" height="17" fill="#ef5350"/><rect x="816" y="363" width="3" height="5" fill="#ef5350"/><rect x="821" y="322" width="1" height="46" fill="#26a69a"/><rect x="820" y="329" width="3" height="39" fill="#26a69a"/><rect x="826" y="316" width="1" height="20" fill="#26a69a"/><rect x="825" y="324" width="3" height="5" fill="#26a69a"/><rect x="831" y="319" width="1" height="19" fill="#ef5350"/><rect x="830" y="324" width="3" height="6" fill="#ef5350"/><rect x="836" y="329" width="1" height="12" fill="#ef5350"/><rect x="835" y="330" width="3" height="5" fill="#ef5350"/><rect x="841" y="328" width="1" height="8" fill="#26a69a"/><rect x="840" y="331" width="3" height="4" fill="#26a69a"/><rect x="846" y="322" width="1" height="14" fill="#ef5350"/><rect x="845" y="331" width="3" height="5" fill="#ef5350"/><rect x="851" y="336" width="1" height="20" fill="#ef5350"/><rect x="850" y="336" width="3" height="17" fill="#ef5350"/><rect x="856" y="350" width="1" height="47" fill="#ef5350"/><rect x="855" y="353" width="3" height="41" fill="#ef5350"/><rect x="861" y="372" width="1" height="34" fill="#26a69a"/><rect x="860" y="386" width="3" height="8" fill="#26a69a"/><rect x="866" y="377" width="1" height="22" fill="#ef5350"/><rect x="865" y="386" width="3" height="5" fill="#ef5350"/><rect x="871" y="380" width="1" height="21" fill="#26a69a"/><rect x="870" y="391" width="3" height="1" fill="#26a69a"/><rect x="876" y="388" width="1" height="4" fill="#ef5350"/><rect x="875" y="391" width="3" height="1" fill="#ef5350"/><rect x="881" y="390" width="1" height="29" fill="#ef5350"/><rect x="880" y="391" width="3" height="24" fill="#ef5350"/><rect x="886" y="391" width="1" height="24" fill="#26a69a"/><rect x="885" y="395" width="3" height="20" fill="#26a69a"/><rect x="891" y="378" width="1" height="22" fill="#26a69a"/><rect x="890" y="379" width="3" height="16" fill="#26a69a"/><rect x="896" y="376" width="1" height="10" fill="#ef5350"/><rect x="895" y="379" width="3" height="3" fill="#ef5350"/><rect x="901" y="381" width="1" height="43" fill="#ef5350"/><rect x="900" y="382" width="3" height="32" fill="#ef5350"/><rect x="906" y="412" width="1" height="32" fill="#ef5350"/><rect x="905" y="414" width="3" height="18" fill="#ef5350"/><rect x="911" y="431" width="1" height="77" fill="#ef5350"/><rect x="910" y="432" width="3" height="44" fill="#ef5350"/><rect x="916" y="471" width="1" height="42" fill="#ef5350"/><rect x="915" y="476" width="3" height="30" fill="#ef5350"/><rect x="921" y="484" width="1" height="40" fill="#26a69a"/><rect x="920" y="492" width="3" height="14" fill="#26a69a"/><rect x="926" y="490" width="1" height="42" fill="#ef5350"/><rect x="925" y="492" width="3" height="20" fill="#ef5350"/><rect x="931" y="501" width="1" height="36" fill="#ef5350"/><rect x="930" y="512" width="3" height="14" fill="#ef5350"/><rect x="936" y="521" width="1" height="60" fill="#ef5350"/><rect x="935" y="526" width="3" height="54" fill="#ef5350"/><rect x="941" y="534" width="1" height="58" fill="#26a69a"/><rect x="940" y="539" width="3" height="41" fill="#26a69a"/><rect x="946" y="530" width="1" height="21" fill="#26a69a"/><rect x="945" y="536" width="3" height="3" fill="#26a69a"/><rect x="951" y="525" width="1" height="14" fill="#26a69a"/><rect x="950" y="535" width="3" height="1" fill="#26a69a"/><rect x="956" y="525" width="1" height="24" fill="#26a69a"/><rect x="955" y="533" width="3" height="2" fill="#26a69a"/><rect x="961" y="529" width="1" height="22" fill="#ef5350"/><rect x="960" y="533" width="3" height="14" fill="#ef5350"/><rect x="966" y="545" width="1" height="21" fill="#ef5350"/><rect x="965" y="547" width="3" height="14" fill="#ef5350"/><rect x="971" y="550" width="1" height="17" fill="#26a69a"/><rect x="970" y="560" width="3" height="1" fill="#26a69a"/><rect x="976" y="538" width="1" height="24" fill="#26a69a"/><rect x="975" y="542" width="3" height="18" fill="#26a69a"/><rect x="981" y="532" width="1" height="11" fill="#26a69a"/><rect x="980" y="536" width="3" height="6" fill="#26a69a"/><rect x="986" y="533" width="1" height="29" fill="#ef5350"/><rect x="985" y="536" width="3" height="20" fill="#ef5350"/><rect x="991" y="546" width="1" height="14" fill="#26a69a"/><rect x="990" y="550" width="3" height="6" fill="#26a69a"/><rect x="996" y="548" width="1" height="12" fill="#ef5350"/><rect x="995" y="550" width="3" height="2" fill="#ef5350"/><rect x="1000" y="544" width="1" height="18" fill="#ef5350"/><rect x="999" y="552" width="3" height="6" fill="#ef5350"/><rect x="1005" y="552" width="1" height="13" fill="#ef5350"/><rect x="1004" y="558" width="3" height="2" fill="#ef5350"/><rect x="1010" y="553" width="1" height="9" fill="#26a69a"/><rect x="1009" y="555" width="3" height="5" fill="#26a69a"/><rect x="1015" y="551" width="1" height="7" fill="#26a69a"/><rect x="1014" y="555" width="3" height="1" fill="#26a69a"/><rect x="1020" y="553" width="1" height="7" fill="#ef5350"/><rect x="1019" y="555" width="3" height="2" fill="#ef5350"/><rect x="1025" y="557" width="1" height="20" fill="#ef5350"/><rect x="1024" y="557" width="3" height="18" fill="#ef5350"/><rect x="1030" y="572" width="1" height="10" fill="#ef5350"/><rect x="1029" y="575" width="3" height="1" fill="#ef5350"/><rect x="1035" y="525" width="1" height="51" fill="#26a69a"/><rect x="1034" y="540" width="3" height="35" fill="#26a69a"/><rect x="1040" y="536" width="1" height="18" fill="#ef5350"/><rect x="1039" y="540" width="3" height="6" fill="#ef5350"/><rect x="1045" y="540" width="1" height="28" fill="#ef5350"/><rect x="1044" y="546" width="3" height="16" fill="#ef5350"/><rect x="1050" y="553" width="1" height="25" fill="#26a69a"/><rect x="1049" y="556" width="3" height="6" fill="#26a69a"/><rect x="1055" y="541" width="1" height="25" fill="#ef5350"/><rect x="1054" y="556" width="3" height="4" fill="#ef5350"/><rect x="1060" y="535" width="1" height="26" fill="#26a69a"/><rect x="1059" y="545" width="3" height="15" fill="#26a69a"/><rect x="1065" y="543" width="1" height="19" fill="#ef5350"/><rect x="1064" y="545" width="3" height="9" fill="#ef5350"/><rect x="1070" y="517" width="1" height="42" fill="#26a69a"/><rect x="1069" y="529" width="3" height="25" fill="#26a69a"/><rect x="1075" y="523" width="1" height="18" fill="#ef5350"/><rect x="1074" y="529" width="3" height="10" fill="#ef5350"/><rect x="1080" y="535" width="1" height="22" fill="#ef5350"/><rect x="1079" y="539" width="3" height="16" fill="#ef5350"/><rect x="1085" y="551" width="1" height="8" fill="#ef5350"/><rect x="1084" y="555" width="3" height="1" fill="#ef5350"/><rect x="1090" y="553" width="1" height="11" fill="#ef5350"/><rect x="1089" y="556" width="3" height="6" fill="#ef5350"/><rect x="1095" y="541" width="1" height="21" fill="#26a69a"/><rect x="1094" y="551" width="3" height="11" fill="#26a69a"/><rect x="1100" y="535" width="1" height="17" fill="#26a69a"/><rect x="1099" y="544" width="3" height="7" fill="#26a69a"/><rect x="1105" y="536" width="1" height="12" fill="#26a69a"/><rect x="1104" y="541" width="3" height="3" fill="#26a69a"/><rect x="1110" y="534" width="1" height="13" fill="#26a69a"/><rect x="1109" y="538" width="3" height="3" fill="#26a69a"/><rect x="1115" y="515" width="1" height="24" fill="#26a69a"/><rect x="1114" y="535" width="3" height="3" fill="#26a69a"/><rect x="1120" y="532" width="1" height="8" fill="#26a69a"/><rect x="1119" y="535" width="3" height="1" fill="#26a69a"/><rect x="1125" y="516" width="1" height="19" fill="#26a69a"/><rect x="1124" y="520" width="3" height="15" fill="#26a69a"/><rect x="1130" y="486" width="1" height="37" fill="#26a69a"/><rect x="1129" y="491" width="3" height="29" fill="#26a69a"/><rect x="1135" y="487" width="1" height="13" fill="#ef5350"/><rect x="1134" y="491" width="3" height="6" fill="#ef5350"/><rect x="1140" y="492" width="1" height="33" fill="#ef5350"/><rect x="1139" y="497" width="3" height="20" fill="#ef5350"/><rect x="1145" y="511" width="1" height="23" fill="#ef5350"/><rect x="1144" y="517" width="3" height="11" fill="#ef5350"/><rect x="1150" y="521" width="1" height="9" fill="#26a69a"/><rect x="1149" y="526" width="3" height="2" fill="#26a69a"/><rect x="1155" y="522" width="1" height="16" fill="#ef5350"/><rect x="1154" y="526" width="3" height="11" fill="#ef5350"/><rect x="1160" y="529" width="1" height="17" fill="#ef5350"/><rect x="1159" y="537" width="3" height="5" fill="#ef5350"/><rect x="1165" y="517" width="1" height="29" fill="#26a69a"/><rect x="1164" y="525" width="3" height="17" fill="#26a69a"/><rect x="1170" y="521" width="1" height="12" fill="#26a69a"/><rect x="1169" y="525" width="3" height="1" fill="#26a69a"/><rect x="1174" y="517" width="1" height="9" fill="#26a69a"/><rect x="1173" y="522" width="3" height="3" fill="#26a69a"/><rect x="1179" y="521" width="1" height="23" fill="#ef5350"/><rect x="1178" y="522" width="3" height="19" fill="#ef5350"/><rect x="1184" y="537" width="1" height="18" fill="#ef5350"/><rect x="1183" y="541" width="3" height="11" fill="#ef5350"/><rect x="1189" y="542" width="1" height="11" fill="#26a69a"/><rect x="1188" y="551" width="3" height="1" fill="#26a69a"/><rect x="1194" y="547" width="1" height="13" fill="#ef5350"/><rect x="1193" y="551" width="3" height="2" fill="#ef5350"/><rect x="1199" y="536" width="1" height="18" fill="#26a69a"/><rect x="1198" y="540" width="3" height="13" fill="#26a69a"/></g>
<line x1="10" y1="539.5" x2="1286" y2="539.5" stroke="#26a69a" stroke-width="1" stroke-dasharray="1 2" shape-rendering="crispEdges"/>
<line x1="10" y1="72.5" x2="1286" y2="72.5" stroke="#0000ff" stroke-width="3" stroke-dasharray="15 18" shape-rendering="crispEdges"/>
<line x1="10" y1="532.5" x2="1286" y2="532.5" stroke="#0000ff" stroke-width="3" stroke-dasharray="15 18" shape-rendering="crispEdges"/>
<line x1="1060" y1="564.5" x2="1286" y2="564.5" stroke="#0000ff" stroke-width="3" stroke-dasharray="15 18" shape-rendering="crispEdges"/>
<line x1="10" y1="592.5" x2="1286" y2="592.5" stroke="#0000ff" stroke-width="3" stroke-dasharray="15 18" shape-rendering="crispEdges"/>
</g>
<g shape-rendering="crispEdges"><rect x="1286" y="28" width="1" height="823" fill="#e0e0e3"/><rect x="11" y="623" width="1340" height="1" fill="#e0e0e3"/><rect x="11" y="824" width="1340" height="1" fill="#e0e0e3"/></g>
<g fill="none" stroke="#9c27b0" stroke-width="1.5"><path d="M1202.3,600.9 A9.6,9.6 0 1 0 1209.1,608.2" stroke-linecap="round"/><path d="M1201.8,605.6 L1196.0,610.6 L1203.2,610.6 L1196.6,615.8" stroke-linejoin="round" stroke-linecap="round" stroke-width="1.7"/></g><circle cx="1206.4" cy="603.5" r="2.6" fill="#f23645"/>
<text x="1295" y="87.3" font-size="12" fill="#131722" stroke="#131722" stroke-width="0.3">4,800.00</text><text x="1295" y="120.3" font-size="12" fill="#131722" stroke="#131722" stroke-width="0.3">4,600.00</text><text x="1295" y="154.3" font-size="12" fill="#131722" stroke="#131722" stroke-width="0.3">4,400.00</text><text x="1295" y="187.3" font-size="12" fill="#131722" stroke="#131722" stroke-width="0.3">4,200.00</text><text x="1295" y="220.3" font-size="12" fill="#131722" stroke="#131722" stroke-width="0.3">4,000.00</text><text x="1295" y="254.3" font-size="12" fill="#131722" stroke="#131722" stroke-width="0.3">3,800.00</text><text x="1295" y="287.3" font-size="12" fill="#131722" stroke="#131722" stroke-width="0.3">3,600.00</text><text x="1295" y="321.3" font-size="12" fill="#131722" stroke="#131722" stroke-width="0.3">3,400.00</text><text x="1295" y="354.3" font-size="12" fill="#131722" stroke="#131722" stroke-width="0.3">3,200.00</text><text x="1295" y="387.3" font-size="12" fill="#131722" stroke="#131722" stroke-width="0.3">3,000.00</text><text x="1295" y="421.3" font-size="12" fill="#131722" stroke="#131722" stroke-width="0.3">2,800.00</text><text x="1295" y="454.3" font-size="12" fill="#131722" stroke="#131722" stroke-width="0.3">2,600.00</text><text x="1295" y="487.3" font-size="12" fill="#131722" stroke="#131722" stroke-width="0.3">2,400.00</text>
<rect x="1290.5" y="31.5" width="57" height="25.5" rx="4" fill="#fff" stroke="#ebebeb"/>
<text x="1299" y="48.8" font-size="12" fill="#131722" stroke="#131722" stroke-width="0.3">USDT</text>
<path d="M1287,64 H1345 Q1347,64 1347,66 V79 Q1347,81 1345,81 H1287 Z" fill="#0000ff"/>
<text x="1295" y="76" font-size="12" fill="#fff" stroke="#fff" stroke-width="0.3">4,868.00</text>
<path d="M1287,497 H1345 Q1347,497 1347,499 V512 Q1347,514 1345,514 H1287 Z" fill="#0000ff"/>
<text x="1295" y="509" font-size="12" fill="#fff" stroke="#fff" stroke-width="0.3">2,111.00</text>
<path d="M1287,514 H1345 Q1347,514 1347,516 V529 Q1347,531 1345,531 H1287 Z" fill="#2962ff"/>
<text x="1295" y="526" font-size="12" fill="#fff" stroke="#fff" stroke-width="0.3">2,081.76</text>
<path d="M1286,514 H1257.3 Q1255.3,514 1255.3,516 V529 Q1255.3,531 1257.3,531 H1286 Z" fill="#2962ff"/>
<text x="1259.6" y="526" font-size="12" fill="#fff" textLength="22.8" lengthAdjust="spacingAndGlyphs" stroke="#fff" stroke-width="0.3">EMA</text>
<path d="M1287,531 H1345 Q1347,531 1347,533 V574 Q1347,576 1345,576 H1287 Z" fill="#26a69a"/>
<text x="1295" y="543" font-size="12" fill="#fff" stroke="#fff" stroke-width="0.3">2,064.58</text>
<text x="1295" y="557" font-size="12" fill="#fff" stroke="#fff" stroke-width="0.3">−39.17%</text>
<text x="1295" y="571" font-size="12" fill="rgba(255,255,255,0.85)" stroke="rgba(255,255,255,0.85)" stroke-width="0.3">07:34:26</text>
<path d="M1286,531 H1230 Q1228,531 1228,533 V546 Q1228,548 1230,548 H1286 Z" fill="#26a69a"/>
<text x="1232.6" y="543" font-size="12" fill="#fff" textLength="49" lengthAdjust="spacingAndGlyphs" stroke="#fff" stroke-width="0.3">ETHUSDT</text>
<path d="M1287,576 H1345 Q1347,576 1347,578 V591 Q1347,593 1345,593 H1287 Z" fill="#f23645"/>
<text x="1295" y="588" font-size="12" fill="#fff" stroke="#fff" stroke-width="0.3">2,040.59</text>
<path d="M1286,576 H1238.3 Q1236.3,576 1236.3,578 V591 Q1236.3,593 1238.3,593 H1286 Z" fill="#f23645"/>
<text x="1240.5" y="588" font-size="12" fill="#fff" textLength="42" lengthAdjust="spacingAndGlyphs" stroke="#fff" stroke-width="0.3">SMA:MA</text>
<g clip-path="url(#cpAxisMain)">
<path d="M1287,593 H1345 Q1347,593 1347,595 V608 Q1347,610 1345,610 H1287 Z" fill="#0000ff"/>
<text x="1295" y="605" font-size="12" fill="#fff" stroke="#fff" stroke-width="0.3">1,916.00</text>
<path d="M1287,610 H1345 Q1347,610 1347,612 V625 Q1347,627 1345,627 H1287 Z" fill="#0000ff"/>
<text x="1295" y="622" font-size="12" fill="#fff" stroke="#fff" stroke-width="0.3">1,750.00</text>
</g>
<text x="1295" y="637.8" font-size="12" fill="#131722" stroke="#131722" stroke-width="0.3">80.00</text><text x="1295" y="696.8" font-size="12" fill="#131722" stroke="#131722" stroke-width="0.3">60.00</text><text x="1295" y="754.8" font-size="12" fill="#131722" stroke="#131722" stroke-width="0.3">40.00</text><text x="1295" y="813.8" font-size="12" fill="#131722" stroke="#131722" stroke-width="0.3">20.00</text>
<path d="M1287,702 H1328 Q1330,702 1330,704 V717 Q1330,719 1328,719 H1287 Z" fill="#fdd835"/>
<text x="1295" y="714" font-size="12" fill="#131722" stroke="#131722" stroke-width="0.3">49.74</text>
<path d="M1286,702 H1209.3 Q1207.3,702 1207.3,704 V717 Q1207.3,719 1209.3,719 H1286 Z" fill="#fdd835"/>
<text x="1211.3" y="714" font-size="12" fill="#131722" textLength="71.5" lengthAdjust="spacingAndGlyphs" stroke="#131722" stroke-width="0.3">RSI-based MA</text>
<path d="M1287,719 H1328 Q1330,719 1330,721 V734 Q1330,736 1328,736 H1287 Z" fill="#7e57c2"/>
<text x="1295" y="731" font-size="12" fill="#fff" stroke="#fff" stroke-width="0.3">48.19</text>
<path d="M1286,719 H1263.2 Q1261.2,719 1261.2,721 V734 Q1261.2,736 1263.2,736 H1286 Z" fill="#7e57c2"/>
<text x="1265.8" y="731" font-size="12" fill="#fff" textLength="16.5" lengthAdjust="spacingAndGlyphs" stroke="#fff" stroke-width="0.3">RSI</text>
<text x="155.5" y="842" font-size="12" fill="#131722" text-anchor="middle" stroke="#131722" stroke-width="0.3">Sep</text><text x="304.5" y="842" font-size="12" fill="#131722" text-anchor="middle" stroke="#131722" stroke-width="0.3">Oct</text><text x="459.5" y="842" font-size="12" fill="#131722" text-anchor="middle" stroke="#131722" stroke-width="0.3">Nov</text><text x="608.5" y="842" font-size="12" fill="#131722" text-anchor="middle" stroke="#131722" stroke-width="0.3">Dec</text><text x="762.5" y="842" font-size="12" fill="#131722" text-anchor="middle" font-weight="bold">2026</text><text x="916.5" y="842" font-size="12" fill="#131722" text-anchor="middle" stroke="#131722" stroke-width="0.3">Feb</text><text x="1055.5" y="842" font-size="12" fill="#131722" text-anchor="middle" stroke="#131722" stroke-width="0.3">Mar</text><text x="1209.5" y="842" font-size="12" fill="#131722" text-anchor="middle" stroke="#131722" stroke-width="0.3">Apr</text>
<text x="18.5" y="45.9" font-size="12" fill="#131722" stroke="#131722" stroke-width="0.3">Ethereum / TetherUS · 1D · Binance</text><text x="217.6" y="45.9" font-size="12" fill="#131722" textLength="55.2" lengthAdjust="spacingAndGlyphs" stroke="#131722" stroke-width="0.3">O<tspan fill="#26a69a" stroke="#26a69a" stroke-width="0.3">1,984.65</tspan></text><text x="279.3" y="45.9" font-size="12" fill="#131722" textLength="55.4" lengthAdjust="spacingAndGlyphs" stroke="#131722" stroke-width="0.3">H<tspan fill="#26a69a" stroke="#26a69a" stroke-width="0.3">2,085.00</tspan></text><text x="341.0" y="45.9" font-size="12" fill="#131722" textLength="53.5" lengthAdjust="spacingAndGlyphs" stroke="#131722" stroke-width="0.3">L<tspan fill="#26a69a" stroke="#26a69a" stroke-width="0.3">1,980.28</tspan></text><text x="401.0" y="45.9" font-size="12" fill="#131722" textLength="54.7" lengthAdjust="spacingAndGlyphs" stroke="#131722" stroke-width="0.3">C<tspan fill="#26a69a" stroke="#26a69a" stroke-width="0.3">2,064.58</tspan></text><text x="462.2" y="45.9" font-size="12" fill="#26a69a" textLength="85" lengthAdjust="spacingAndGlyphs" stroke="#26a69a" stroke-width="0.3">+79.94 (+4.03%)</text><text x="18.3" y="62.6" font-size="12" fill="#131722" textLength="82" lengthAdjust="spacingAndGlyphs" stroke="#131722" stroke-width="0.3">EMA (20, close)</text><text x="107.5" y="62.6" font-size="12" fill="#2962ff" stroke="#2962ff" stroke-width="0.3">2,081.76</text><text x="18.1" y="80.2" font-size="12" fill="#131722" textLength="82" lengthAdjust="spacingAndGlyphs" stroke="#131722" stroke-width="0.3">SMA (50, close)</text><text x="107.5" y="80.2" font-size="12" fill="#f23645" stroke="#f23645" stroke-width="0.3">2,040.59</text><text x="18.4" y="642.8" font-size="12" fill="#131722" textLength="76" lengthAdjust="spacingAndGlyphs" stroke="#131722" stroke-width="0.3">RSI (14, close)</text><text x="102.1" y="642.8" font-size="12" fill="#7e57c2" stroke="#7e57c2" stroke-width="0.3">48.19</text><text x="138.3" y="642.8" font-size="12" fill="#fdd835" stroke="#fdd835" stroke-width="0.3">49.74</text>
<g fill="#131722"><path d="M12.1,874.2 H24 V889 H17.9 V880 H12.1 Z"/><circle cx="29.2" cy="877.1" r="2.9"/><path d="M33.9,874.2 H41.6 L35.8,889 H28.8 Z"/></g>
<text x="49.3" y="889" font-size="20.5" font-weight="bold" fill="#131722">TradingView</text>
</svg></body></html>
